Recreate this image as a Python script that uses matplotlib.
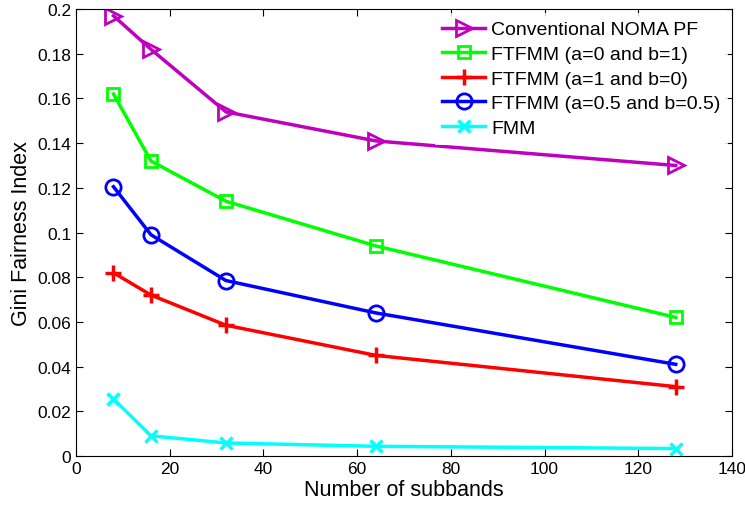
import matplotlib
matplotlib.use("Agg")
import matplotlib.pyplot as plt

plt.rcParams['font.family'] = ['Liberation Sans', 'DejaVu Sans']

subbands = [8, 16, 32, 64, 128]
noma_pf = [0.197, 0.182, 0.154, 0.141, 0.130]
ftfmm_a0_b1 = [0.162, 0.132, 0.114, 0.094, 0.062]
ftfmm_a1_b0 = [0.082, 0.072, 0.0585, 0.045, 0.031]
ftfmm_half = [0.1205, 0.099, 0.0785, 0.064, 0.041]
fmm = [0.0255, 0.009, 0.0058, 0.0043, 0.0033]

fig = plt.figure(figsize=(7.45, 5.06), dpi=100)
ax = fig.add_axes([0.102, 0.097, 0.8805, 0.883])

ax.plot(subbands, noma_pf, color='#bf00bf', marker='>', ms=11, mfc='none', mew=2, lw=2.5,
        label='Conventional NOMA PF')
ax.plot(subbands, ftfmm_a0_b1, color='#00ff00', marker='s', ms=9, mfc='none', mew=2, lw=2.5,
        label='FTFMM (a=0 and b=1)')
ax.plot(subbands, ftfmm_a1_b0, color='#ff0000', marker='+', ms=11, mew=2.5, lw=2.5,
        label='FTFMM (a=1 and b=0)')
ax.plot(subbands, ftfmm_half, color='#0000ff', marker='o', ms=11, mfc='none', mew=2, lw=2.5,
        label='FTFMM (a=0.5 and b=0.5)')
ax.plot(subbands, fmm, color='#00ffff', marker='x', ms=8, mew=2.5, lw=2.5,
        label='FMM')

ax.set_xlim(0, 140)
ax.set_ylim(0, 0.2)
ax.set_xticks(range(0, 141, 20))
ax.set_yticks([0, 0.02, 0.04, 0.06, 0.08, 0.1, 0.12, 0.14, 0.16, 0.18, 0.2])
ax.set_yticklabels(['0', '0.02', '0.04', '0.06', '0.08', '0.1', '0.12', '0.14', '0.16', '0.18', '0.2'])
ax.tick_params(direction='in', top=True, right=True, labelsize=12.5, length=5)
ax.set_xlabel('Number of subbands', fontsize=15.5, labelpad=2)
ax.set_ylabel('Gini Fairness Index', fontsize=15.5, labelpad=4)

leg = ax.legend(loc='upper right', fontsize=14, frameon=True, fancybox=False,
                edgecolor='none', handlelength=2.2, borderaxespad=0.2,
                labelspacing=0.36, handletextpad=0.3)

fig.savefig('out.png', dpi=100)
